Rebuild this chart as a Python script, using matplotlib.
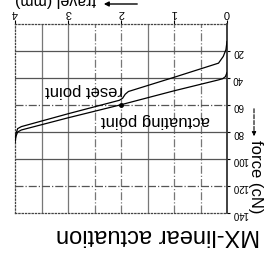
import matplotlib.pyplot as plt

plt.rcParams['font.family'] = ['Liberation Sans', 'DejaVu Sans']

# press curve (travel in mm, force in cN)
press_travel = [0.0, 0.03, 0.08, 0.17, 1.0, 2.0, 3.0, 3.88, 3.95, 3.98, 4.0]
press_force = [36, 39, 40.5, 41.5, 49.5, 59.8, 69.5, 78.5, 80, 83, 88]

# release curve with the reset hump near 2 mm
reset_travel = [0.0, 0.02, 0.07, 0.16, 1.0, 1.86, 1.92, 1.97, 2.03, 3.0, 3.88, 3.95, 3.98, 4.0]
reset_force = [13, 19, 24, 29, 39.5, 50, 52, 55, 56.5, 66.5, 76, 77.5, 81, 86]

actuating_travel = 2.0
actuating_force = 59.8

x_ticks = [0, 1, 2, 3, 4]
y_ticks = [20, 40, 60, 80, 100, 120, 140]
grid_travel = [0.5, 1.0, 1.5, 2.0, 2.5, 3.0, 3.5]
grid_force = [20, 40, 60, 80, 100, 120]

fig = plt.figure(figsize=(2.65, 2.54), dpi=100)
ax = fig.add_axes([15 / 265, 41 / 254, 212 / 265, 189 / 254])

# scanned-look grid: mix of solid and dash-dot lines
v_styles = ['-.', '-.', '-', '-.', '-.', '-', '-']
h_styles = ['-', '-', '-.', '-', '-', '-.']
for t, ls in zip(grid_travel, v_styles):
    ax.axvline(t, color='#777777', lw=0.9, ls=ls, zorder=1)
for f, ls in zip(grid_force, h_styles):
    ax.axhline(f, color='#555555', lw=0.9, ls=ls, zorder=1)

ax.plot(press_travel, press_force, color='black', lw=0.9, zorder=3)
ax.plot(reset_travel, reset_force, color='black', lw=0.9, zorder=3)
ax.plot([actuating_travel], [actuating_force], 'o', color='black', ms=2.5, zorder=4)

ax.set_xlim(4, 0)
ax.set_ylim(140, 0)

ax.xaxis.tick_top()
ax.yaxis.tick_right()
ax.set_xticks(x_ticks)
ax.set_yticks(y_ticks)
ax.tick_params(axis='x', labelsize=8, labelrotation=180, length=3, width=0.8, pad=1)
ax.tick_params(axis='y', labelsize=7, labelrotation=180, length=2, width=0.8, pad=2)

ax.spines['right'].set_linewidth(1.3)
ax.spines['right'].set_color('#333333')
for s in ['top', 'left', 'bottom']:
    ax.spines[s].set_linestyle(':')
    ax.spines[s].set_linewidth(0.9)
    ax.spines[s].set_color('#444444')

ax.text(1.34, 71.5, 'actuating point', rotation=180, ha='center', va='center', fontsize=12)
ax.text(2.70, 49.5, 'reset point', rotation=180, ha='center', va='center', fontsize=12)

# axis labels with arrows, upside down like the source
fig.text(55 / 265, 1 - 7 / 254, 'travel (mm)', rotation=180, ha='center', va='bottom', fontsize=11.5)
ax.annotate('', xy=(101 / 265, 1 - 4 / 254), xytext=(140 / 265, 1 - 4 / 254),
            xycoords='figure fraction', textcoords='figure fraction',
            arrowprops=dict(arrowstyle='-|>', color='black', lw=1, mutation_scale=7))
fig.text(256 / 265, 1 - 177 / 254, 'force (cN)', rotation=270, ha='center', va='center', fontsize=12)
ax.annotate('', xy=(254 / 265, 1 - 139 / 254), xytext=(254 / 265, 1 - 106 / 254),
            xycoords='figure fraction', textcoords='figure fraction',
            arrowprops=dict(arrowstyle='-|>', color='black', lw=0.8, ls='--', mutation_scale=6))

fig.text(158 / 265, 1 - 235 / 254, 'MX-linear actuation', rotation=180, ha='center', va='center', fontsize=17)

fig.savefig('out.png', dpi=100)
